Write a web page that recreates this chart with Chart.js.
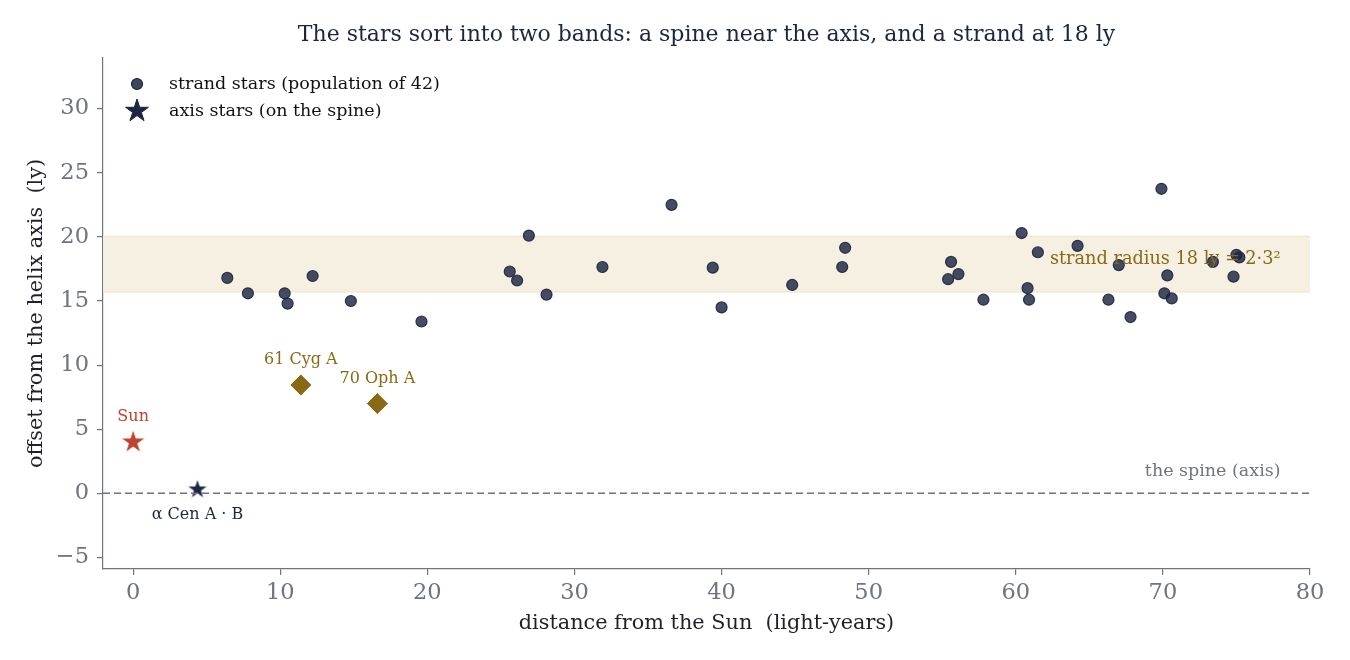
<!DOCTYPE html>
<html>
<head>
<meta charset="utf-8">
<script src="https://cdn.jsdelivr.net/npm/chart.js@4.4.1/dist/chart.umd.min.js"></script>
<style>
html, body { margin: 0; padding: 0; background: #fff; }
#wrap { width: 1350px; height: 660px; }
</style>
</head>
<body>
<div id="wrap"><canvas id="starChart" width="1350" height="660"></canvas></div>
<script>
// strand stars (distance from Sun, offset from axis)
const strandX = [6.4, 7.8, 10.3, 10.5, 12.2, 14.8, 19.6, 25.6, 26.1, 26.9, 28.1, 31.9,
    36.6, 39.4, 40.0, 44.8, 48.2, 48.4, 55.4, 55.6, 56.1, 57.8, 60.4, 60.8, 60.9, 61.5,
    64.2, 66.3, 67.0, 67.8, 69.9, 70.1, 70.3, 70.6, 73.4, 74.8, 75.0, 75.2];
const strandY = [16.8, 15.6, 15.6, 14.8, 16.95, 15.0, 13.4, 17.3, 16.6, 20.1, 15.5, 17.65,
    22.5, 17.6, 14.5, 16.25, 17.65, 19.15, 16.7, 18.05, 17.1, 15.1, 20.3, 16.0, 15.1, 18.8,
    19.3, 15.1, 17.8, 13.75, 23.75, 15.6, 17.0, 15.2, 18.05, 16.9, 18.6, 18.4];

const sunPos = [0, 4.0];
const cenPos = [4.37, 0.3];
const diamondNames = ["61 Cyg A", "70 Oph A"];
const diamondX = [11.4, 16.6];
const diamondY = [8.45, 7.0];
const band = [15.7, 20.05];

const xTicks = [0, 10, 20, 30, 40, 50, 60, 70, 80];
const yTicks = [-5, 0, 5, 10, 15, 20, 25, 30];

const titleText = "The stars sort into two bands: a spine near the axis, and a strand at 18 ly";
const legendLabels = ["strand stars (population of 42)", "axis stars (on the spine)"];

const serif = "'DejaVu Serif', serif";
const navy = "#1c2541";
const gray = "#6f7383";
const gold = "#8a6914";
const red = "#c0432e";

function makeStar(r, fill, edge) {
    const c = document.createElement("canvas");
    const s = Math.ceil(2 * r + 4);
    c.width = s;
    c.height = s;
    const g = c.getContext("2d");
    const ri = r * 0.382;
    g.beginPath();
    for (let i = 0; i < 10; i++) {
        const a = -Math.PI / 2 + i * Math.PI / 5;
        const rr = i % 2 ? ri : r;
        g.lineTo(s / 2 + rr * Math.cos(a), s / 2 + rr * Math.sin(a));
    }
    g.closePath();
    g.fillStyle = fill;
    g.fill();
    g.lineWidth = 1;
    g.strokeStyle = edge;
    g.stroke();
    return c;
}

const sunStar = makeStar(13, red, "#ffffff");
const cenStar = makeStar(11, navy, "#ffffff");
const legendStar = makeStar(12, navy, navy);

const bandPlugin = {
    id: "band",
    beforeDatasetsDraw(chart) {
        const { ctx, chartArea, scales } = chart;
        const yTop = scales.y.getPixelForValue(band[1]);
        const yBot = scales.y.getPixelForValue(band[0]);
        ctx.save();
        ctx.fillStyle = "#f6f0e2";
        ctx.fillRect(chartArea.left, yTop, chartArea.right - chartArea.left, yBot - yTop);
        ctx.strokeStyle = "#f0e4c6";
        ctx.lineWidth = 1.2;
        ctx.beginPath();
        ctx.moveTo(chartArea.left, yTop);
        ctx.lineTo(chartArea.right, yTop);
        ctx.moveTo(chartArea.left, yBot);
        ctx.lineTo(chartArea.right, yBot);
        ctx.stroke();
        ctx.restore();
    }
};

function label(ctx, text, px, py, color, size, align) {
    ctx.fillStyle = color;
    ctx.font = size + "px " + serif;
    ctx.textAlign = align;
    ctx.textBaseline = "middle";
    ctx.fillText(text, px, py);
}

const textPlugin = {
    id: "texts",
    afterDraw(chart) {
        const { ctx, chartArea, scales } = chart;
        const x = scales.x, y = scales.y;
        ctx.save();

        label(ctx, titleText, (chartArea.left + chartArea.right) / 2, 35, navy, 22, "center");

        label(ctx, "Sun", x.getPixelForValue(sunPos[0]), y.getPixelForValue(sunPos[1]) - 25, red, 16, "center");
        label(ctx, "α Cen A · B", x.getPixelForValue(cenPos[0]), y.getPixelForValue(cenPos[1]) + 25, navy, 16, "center");
        diamondNames.forEach((name, i) => {
            label(ctx, name, x.getPixelForValue(diamondX[i]), y.getPixelForValue(diamondY[i]) - 25, gold, 16, "center");
        });

        label(ctx, "strand radius 18 ly = 2·3²", x.getPixelForValue(78), y.getPixelForValue(18.25), gold, 17.7, "right");
        label(ctx, "the spine (axis)", x.getPixelForValue(78), y.getPixelForValue(1.7), gray, 17.5, "right");

        // legend
        const lx = chartArea.left + 34;
        const ly = chartArea.top + 26;
        ctx.beginPath();
        ctx.arc(lx, ly, 5.5, 0, Math.PI * 2);
        ctx.fillStyle = "rgba(28,37,65,0.85)";
        ctx.fill();
        ctx.lineWidth = 1.2;
        ctx.strokeStyle = navy;
        ctx.stroke();
        ctx.drawImage(legendStar, lx - legendStar.width / 2, ly + 27 - legendStar.height / 2);
        label(ctx, legendLabels[0], lx + 32, ly, "#111111", 17.5, "left");
        label(ctx, legendLabels[1], lx + 32, ly + 27, "#111111", 17.5, "left");

        ctx.restore();
    }
};

new Chart(document.getElementById("starChart"), {
    type: "scatter",
    data: {
        datasets: [
            {
                type: "line",
                label: "spine",
                data: [{ x: -2.05, y: 0 }, { x: 80, y: 0 }],
                borderColor: gray,
                borderWidth: 1.5,
                borderDash: [7, 4],
                pointRadius: 0,
                fill: false
            },
            {
                label: legendLabels[0],
                data: strandX.map((v, i) => ({ x: v, y: strandY[i] })),
                pointStyle: "circle",
                pointRadius: 5.5,
                backgroundColor: "rgba(28,37,65,0.82)",
                borderColor: "rgba(28,37,65,0.9)",
                borderWidth: 1.2
            },
            {
                label: "diamonds",
                data: diamondX.map((v, i) => ({ x: v, y: diamondY[i] })),
                pointStyle: "rectRot",
                pointRadius: 11,
                backgroundColor: gold,
                borderColor: "#ffffff",
                borderWidth: 1
            },
            {
                label: "Sun",
                data: [{ x: sunPos[0], y: sunPos[1] }],
                pointStyle: sunStar
            },
            {
                label: legendLabels[1],
                data: [{ x: cenPos[0], y: cenPos[1] }],
                pointStyle: cenStar
            }
        ]
    },
    options: {
        responsive: false,
        animation: false,
        devicePixelRatio: 1,
        layout: { padding: { top: 58, right: 40, left: 0, bottom: 0 } },
        plugins: {
            legend: { display: false },
            tooltip: { enabled: false },
            title: { display: false }
        },
        scales: {
            x: {
                type: "linear",
                min: -2.05,
                max: 80,
                afterBuildTicks: s => { s.ticks = xTicks.map(v => ({ value: v })); },
                afterFit: s => { s.height = 91; },
                ticks: { font: { family: serif, size: 22.5 }, color: gray, padding: 5, maxRotation: 0 },
                grid: { drawOnChartArea: false, drawTicks: true, tickLength: 6, color: gray, lineWidth: 1.2 },
                border: { display: true, color: gray, width: 1.2 },
                title: {
                    display: true,
                    text: "distance from the Sun  (light-years)",
                    font: { family: serif, size: 20.8 },
                    color: "#1f1f2e",
                    padding: { top: 0, bottom: 24 }
                }
            },
            y: {
                type: "linear",
                min: -5.9,
                max: 33.95,
                afterBuildTicks: s => { s.ticks = yTicks.map(v => ({ value: v })); },
                afterFit: s => { s.width = 103; },
                ticks: {
                    font: { family: serif, size: 22.5 },
                    color: gray,
                    padding: 8,
                    callback: v => v < 0 ? "\u2212" + Math.abs(v) : String(v)
                },
                grid: { drawOnChartArea: false, drawTicks: true, tickLength: 6, color: gray, lineWidth: 1.2 },
                border: { display: true, color: gray, width: 1.2 },
                title: {
                    display: true,
                    text: "offset from the helix axis  (ly)",
                    font: { family: serif, size: 20.8 },
                    color: "#1f1f2e",
                    padding: { top: 24, bottom: 0 }
                }
            }
        }
    },
    plugins: [bandPlugin, textPlugin]
});
</script>
</body>
</html>
